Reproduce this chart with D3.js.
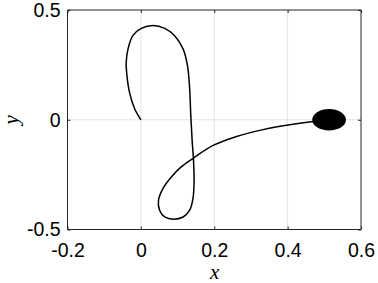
<!DOCTYPE html>
<html>
<head>
<meta charset="utf-8">
<script src="https://cdn.jsdelivr.net/npm/d3@7"></script>
<style>
  html, body { margin: 0; padding: 0; background: #ffffff; }
  svg { display: block; }
</style>
</head>
<body>
<svg id="chart" width="378" height="283"></svg>
<script>
// ---- data ----
const trajX = [0.000, -0.017, -0.031, -0.038, -0.040, -0.035, -0.022, 0.001, 0.033, 0.065, 0.092, 0.115, 0.127, 0.133, 0.136, 0.138, 0.140, 0.143, 0.145, 0.142, 0.133, 0.115, 0.088, 0.065, 0.051, 0.048, 0.060, 0.083, 0.110, 0.144, 0.174, 0.197, 0.261, 0.333, 0.406, 0.470, 0.500];
const trajY = [0.000, 0.050, 0.125, 0.201, 0.262, 0.323, 0.383, 0.416, 0.429, 0.416, 0.383, 0.323, 0.247, 0.141, 0.020, -0.040, -0.102, -0.170, -0.284, -0.359, -0.412, -0.443, -0.453, -0.443, -0.412, -0.367, -0.314, -0.261, -0.215, -0.174, -0.140, -0.117, -0.076, -0.045, -0.023, -0.008, -0.003];
const blobCenter = [0.513, 0.0];
const blobRadius = [0.046, 0.049];
const xTicks = [-0.2, 0, 0.2, 0.4, 0.6];
const yTicks = [-0.5, 0, 0.5];
const xTickLabels = ["-0.2", "0", "0.2", "0.4", "0.6"];
const yTickLabels = ["-0.5", "0", "0.5"];
const xLabel = "x";
const yLabel = "y";

// ---- layout ----
const svg = d3.select("#chart");
const L = 67.5, R = 361, T = 10, B = 229.5;
const x = d3.scaleLinear().domain([-0.2, 0.6]).range([L, R]);
const y = d3.scaleLinear().domain([-0.5, 0.5]).range([B, T]);
const axisColor = "#262626";
const font = "'Liberation Sans', Arial, sans-serif";

// grid
const grid = svg.append("g");
grid.selectAll("line.gx").data(xTicks.slice(1, -1)).enter().append("line")
  .attr("x1", d => x(d)).attr("x2", d => x(d)).attr("y1", T).attr("y2", B)
  .attr("stroke", "#e3e3e3").attr("stroke-width", 1);
grid.selectAll("line.gy").data(yTicks.slice(1, -1)).enter().append("line")
  .attr("x1", L).attr("x2", R).attr("y1", d => y(d)).attr("y2", d => y(d))
  .attr("stroke", "#e3e3e3").attr("stroke-width", 1);

// trajectory
const pts = trajX.map((v, i) => [v, trajY[i]]);
const line = d3.line().x(d => x(d[0])).y(d => y(d[1])).curve(d3.curveCatmullRom.alpha(0.5));
svg.append("path").datum(pts).attr("d", line)
  .attr("fill", "none").attr("stroke", "#000").attr("stroke-width", 1.5);

// blob
svg.append("ellipse")
  .attr("cx", x(blobCenter[0])).attr("cy", y(blobCenter[1]))
  .attr("rx", x(blobCenter[0] + blobRadius[0]) - x(blobCenter[0]))
  .attr("ry", y(blobCenter[1]) - y(blobCenter[1] + blobRadius[1]))
  .attr("fill", "#000");

// axes (box with inward ticks)
const tl = 3;
const axBottom = d3.axisBottom(x).tickValues(xTicks).tickSize(-tl).tickPadding(14)
  .tickFormat((d, i) => xTickLabels[i]);
const axTop = d3.axisTop(x).tickValues(xTicks).tickSize(-tl).tickFormat("");
const axLeft = d3.axisLeft(y).tickValues(yTicks).tickSize(-tl).tickPadding(7)
  .tickFormat((d, i) => yTickLabels[i]);
const axRight = d3.axisRight(y).tickValues(yTicks).tickSize(-tl).tickFormat("");

function style(g) {
  g.selectAll("path, line").attr("stroke", axisColor).attr("stroke-width", 1);
  g.selectAll("text").attr("fill", "#000").style("font-family", font).style("font-size", "19.5px");
}
svg.append("g").attr("transform", `translate(0,${B})`).call(axBottom).call(style)
  .call(g => g.select(".domain").attr("d", `M${L},0H${R}`));
svg.append("g").attr("transform", `translate(0,${T})`).call(axTop).call(style)
  .call(g => g.select(".domain").attr("d", `M${L},0H${R}`));
svg.append("g").attr("transform", `translate(${L},0)`).call(axLeft).call(style)
  .call(g => g.select(".domain").attr("d", `M0,${T}V${B}`));
svg.append("g").attr("transform", `translate(${R},0)`).call(axRight).call(style)
  .call(g => g.select(".domain").attr("d", `M0,${T}V${B}`));

// axis labels
svg.append("text").attr("x", (L + R) / 2 + 0.5).attr("y", 279)
  .attr("text-anchor", "middle")
  .style("font-family", "'Liberation Serif', 'DejaVu Serif', serif")
  .style("font-style", "italic").style("font-size", "21px").text(xLabel);
svg.append("text")
  .attr("transform", `translate(18,${(T + B) / 2}) rotate(-90)`)
  .attr("text-anchor", "middle")
  .style("font-family", "'Liberation Serif', 'DejaVu Serif', serif")
  .style("font-style", "italic").style("font-size", "21px").text(yLabel);
</script>
</body>
</html>
